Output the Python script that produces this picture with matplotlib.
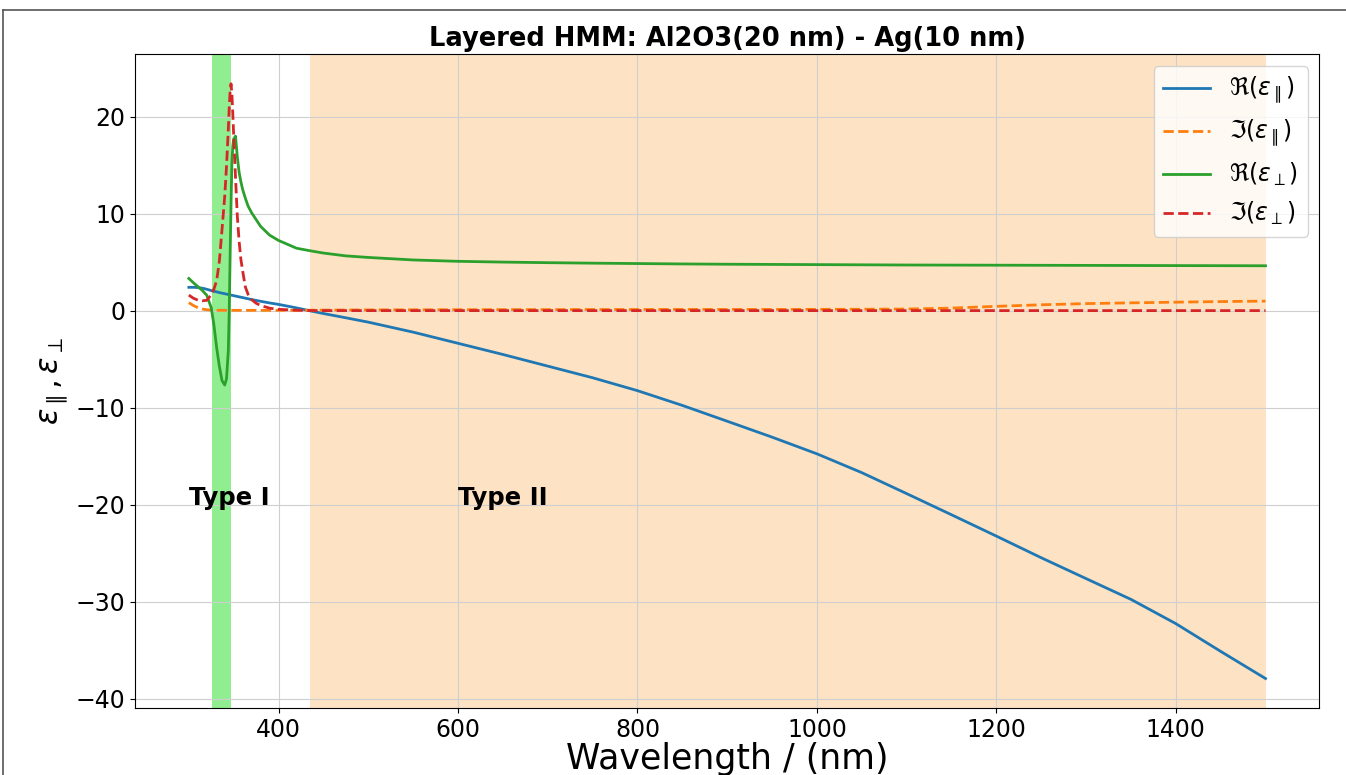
"""
Effective permittivity of a layered hyperbolic metamaterial (Al2O3 / Ag stack),
parallel and perpendicular components, with the Type I / Type II bands shaded.
"""
from matplotlib import pyplot as plt
from matplotlib.lines import Line2D

# wavelength grid (nm), denser around the resonance
wavelength = [300, 305, 310, 315, 320, 325, 328, 331, 334, 337,
              340, 342, 344, 345, 346, 347, 348, 349, 350, 352,
              354, 356, 358, 360, 363, 366, 370, 375, 380, 390,
              400, 420, 435, 450, 475, 500, 550, 600, 650, 700,
              750, 800, 850, 900, 950, 1000, 1050, 1100, 1150, 1200,
              1250, 1300, 1350, 1400, 1450, 1500]

# Re(eps_par)
re_par = [2.42, 2.42, 2.40, 2.33, 2.22, 2.08, 2.01, 1.95, 1.88, 1.82,
          1.76, 1.72, 1.68, 1.66, 1.64, 1.62, 1.60, 1.58, 1.56, 1.52,
          1.48, 1.44, 1.40, 1.36, 1.30, 1.24, 1.16, 1.07, 0.98, 0.81,
          0.66, 0.30, 0.00, -0.28, -0.72, -1.17, -2.20, -3.35, -4.50, -5.70,
          -6.90, -8.23, -9.75, -11.38, -13.02, -14.74, -16.68, -18.84, -21.02, -23.22,
          -25.45, -27.60, -29.74, -32.24, -35.10, -37.90]

# Im(eps_par)
im_par = [0.84, 0.55, 0.32, 0.18, 0.11, 0.07, 0.06, 0.05, 0.05, 0.05,
          0.05, 0.05, 0.05, 0.05, 0.05, 0.05, 0.05, 0.05, 0.05, 0.05,
          0.05, 0.05, 0.05, 0.05, 0.05, 0.05, 0.05, 0.05, 0.05, 0.05,
          0.05, 0.05, 0.06, 0.07, 0.08, 0.09, 0.10, 0.11, 0.12, 0.12,
          0.13, 0.13, 0.14, 0.14, 0.14, 0.15, 0.16, 0.18, 0.28, 0.46,
          0.62, 0.74, 0.82, 0.89, 0.95, 1.00]

# Re(eps_perp)
re_perp = [3.33, 2.90, 2.50, 2.10, 1.60, 0.30, -1.50, -3.80, -5.70, -7.20,
           -7.65, -7.00, -4.10, -0.10, 5.50, 10.90, 15.30, 17.00, 17.70, 18.00,
           15.90, 14.30, 13.30, 12.50, 11.60, 10.80, 10.10, 9.40, 8.70, 7.80,
           7.25, 6.45, 6.19, 5.95, 5.66, 5.50, 5.24, 5.10, 5.02, 4.96,
           4.91, 4.87, 4.83, 4.80, 4.78, 4.76, 4.74, 4.72, 4.71, 4.70,
           4.69, 4.68, 4.67, 4.66, 4.65, 4.64]

# Im(eps_perp)
im_perp = [1.62, 1.30, 1.10, 1.03, 1.08, 1.65, 2.25, 3.10, 5.10, 8.40,
           11.80, 14.90, 18.70, 20.90, 22.60, 23.40, 22.40, 20.30, 18.00, 13.80,
           9.80, 7.20, 5.30, 4.10, 2.45, 1.70, 1.15, 0.78, 0.55, 0.27,
           0.15, 0.06, 0.03, 0.02, 0.02, 0.02, 0.02, 0.02, 0.02, 0.02,
           0.02, 0.02, 0.02, 0.02, 0.02, 0.02, 0.02, 0.02, 0.02, 0.02,
           0.02, 0.02, 0.02, 0.02, 0.02, 0.02]

# hyperbolic bands (nm)
type1_band = (325.5, 346.5)
type2_band = (435.0, 1500.0)

fig = plt.figure(figsize=(13.46, 7.75), dpi=100)
ax = fig.add_axes([0.1003, 0.0861, 0.8799, 0.8442])

ax.axvspan(*type1_band, color='lightgreen', lw=0)
ax.axvspan(*type2_band, color='#fde3c3', lw=0)

ax.plot(wavelength, re_par, color='tab:blue', lw=2, label=r'$\Re(\varepsilon_\parallel)$')
ax.plot(wavelength, im_par, '--', color='tab:orange', lw=2, label=r'$\Im(\varepsilon_\parallel)$')
ax.plot(wavelength, re_perp, color='tab:green', lw=2, label=r'$\Re(\varepsilon_\perp)$')
ax.plot(wavelength, im_perp, '--', color='tab:red', lw=2, label=r'$\Im(\varepsilon_\perp)$')

ax.text(300, -20, 'Type I', fontsize=17.5, fontweight='bold')
ax.text(600, -20, 'Type II', fontsize=17.5, fontweight='bold')

ax.grid(True, color='#cfcfcf')
ax.tick_params(labelsize=17)
ax.set_xlabel('Wavelength / (nm)', fontsize=25, labelpad=0)
ax.set_ylabel(r'$\varepsilon_\parallel, \varepsilon_\perp$', fontsize=22)
ax.set_title('Layered HMM: Al2O3(20 nm) - Ag(10 nm)', fontsize=18.5, fontweight='bold')
ax.legend(loc='upper right', fontsize=17)

# frame around the figure
fig.add_artist(Line2D([3 / 1346, 1], [1 - 10 / 775, 1 - 10 / 775],
                      transform=fig.transFigure, color='#555555', lw=1.2))
fig.add_artist(Line2D([3 / 1346, 3 / 1346], [0, 1 - 10 / 775],
                      transform=fig.transFigure, color='#555555', lw=1.2))

fig.savefig('out.png', dpi=100)
